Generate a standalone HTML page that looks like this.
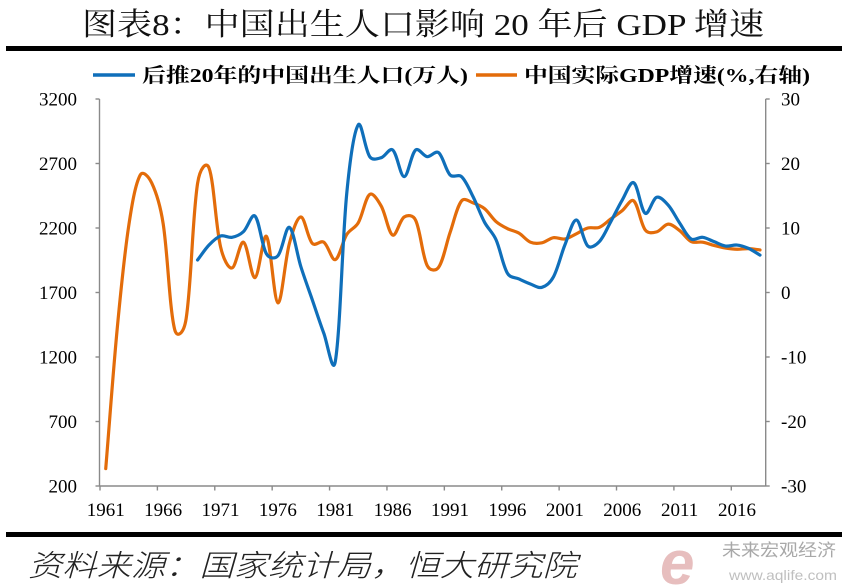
<!DOCTYPE html>
<html>
<head>
<meta charset="utf-8">
<style>
html,body{margin:0;padding:0;background:#fff;}
svg{display:block;}
.tk{font-family:"Liberation Serif","Noto Serif CJK SC",serif;font-size:19px;fill:#000;}
</style>
</head>
<body>
<svg id="c" width="849" height="587" viewBox="0 0 849 587" xmlns="http://www.w3.org/2000/svg">
<rect x="0" y="0" width="849" height="587" fill="#fff"/>
<!-- Title -->
<text x="82" y="35" font-family="'Liberation Serif','Noto Serif CJK SC',serif" font-size="31" fill="#111" textLength="682" lengthAdjust="spacingAndGlyphs">图表8：中国出生人口影响 20 年后 GDP 增速</text>
<rect x="6" y="46" width="836" height="5" fill="#000"/>

<!-- Legend -->
<line x1="93" y1="75" x2="135" y2="75" stroke="#0f6fba" stroke-width="3.5"/>
<text x="142" y="82" font-family="'Liberation Serif','Noto Serif CJK SC',serif" font-weight="bold" font-size="20" fill="#000" textLength="326" lengthAdjust="spacingAndGlyphs">后推20年的中国出生人口(万人)</text>
<line x1="476" y1="75" x2="517" y2="75" stroke="#e36c0a" stroke-width="3.5"/>
<text x="524" y="82" font-family="'Liberation Serif','Noto Serif CJK SC',serif" font-weight="bold" font-size="20" fill="#000" textLength="286" lengthAdjust="spacingAndGlyphs">中国实际GDP增速(%,右轴)</text>

<!-- Axes -->
<g stroke="#8a8a8a" stroke-width="1.4" fill="none" id="axes">
<line x1="99.5" y1="99" x2="99.5" y2="486.5"/>
<line x1="765.7" y1="99" x2="765.7" y2="486.5"/>
<line x1="99.5" y1="486" x2="765.7" y2="486"/>
</g>
<g id="ticks" stroke="#8a8a8a" stroke-width="1.4"></g>
<g id="labels"></g>

<!-- Series -->
<path id="orange" fill="none" stroke="#e36c0a" stroke-width="3.2" stroke-linejoin="round" stroke-linecap="round"/>
<path id="blue" fill="none" stroke="#0f6fba" stroke-width="3.2" stroke-linejoin="round" stroke-linecap="round"/>

<!-- Bottom rule & source -->
<rect x="6" y="532" width="836" height="5" fill="#000"/>
<text x="28" y="576" font-family="'Noto Sans CJK SC','WenQuanYi Zen Hei',sans-serif" font-style="italic" font-weight="300" font-size="30" fill="#222" textLength="549" lengthAdjust="spacingAndGlyphs">资料来源：国家统计局，恒大研究院</text>

<!-- Watermark -->
<g opacity="0.85">
<text x="660" y="584" font-family="'Liberation Sans',sans-serif" font-style="italic" font-weight="bold" font-size="62" fill="#e3b3b3">e</text>
<text x="722" y="556" font-family="'Liberation Sans','Noto Sans CJK SC',sans-serif" font-size="17" fill="#9a9a9a" textLength="114" lengthAdjust="spacingAndGlyphs">未来宏观经济</text>
<text x="729" y="580" font-family="'Liberation Sans',sans-serif" font-size="14" fill="#b5b5b5" textLength="108" lengthAdjust="spacingAndGlyphs">www.aqlife.com</text>
</g>
</svg>

<script>
(function(){
  var NS="http://www.w3.org/2000/svg";
  var W=11.478, X0=100;
  function x(i){return X0+(i+0.5)*W;}
  function yL(v){return 486-(v-200)*387/3000;}
  function yR(v){return 292.5-v*6.45;}
  var ticks=document.getElementById('ticks');
  var labels=document.getElementById('labels');
  function ln(x1,y1,x2,y2){var e=document.createElementNS(NS,'line');e.setAttribute('x1',x1);e.setAttribute('y1',y1);e.setAttribute('x2',x2);e.setAttribute('y2',y2);ticks.appendChild(e);}
  function tx(s,xx,yy,anchor){var e=document.createElementNS(NS,'text');e.setAttribute('x',xx);e.setAttribute('y',yy);e.setAttribute('class','tk');e.setAttribute('text-anchor',anchor);e.textContent=s;labels.appendChild(e);}
  var L=[3200,2700,2200,1700,1200,700,200], R=[30,20,10,0,-10,-20,-30];
  for(var k=0;k<7;k++){
    var yy=99+k*64.5;
    ln(95.5,yy,99.5,yy);
    ln(765.7,yy,769.7,yy);
    tx(String(L[k]),77,yy+6.5,'end');
    tx(String(R[k]),781,yy+6.5,'start');
  }
  for(var j=0;j<12;j++){
    var xx=X0+j*5*W;
    ln(xx,486,xx,490.5);
    tx(String(1961+j*5),xx+5.7,516,'middle');
  }
  function dist(a,b){var dx=a[0]-b[0],dy=a[1]-b[1];return Math.sqrt(dx*dx+dy*dy);}
  function path(pts){
    var n=pts.length, cin=[], cout=[];
    for(var i=0;i<n;i++){
      var p=pts[i], pr=pts[i-1]||p, nx=pts[i+1]||p;
      var tx_=nx[0]-pr[0], ty_=nx[1]-pr[1];
      var d1=dist(p,pr), d2=dist(p,nx), s=(d1+d2)||1;
      var fo=0.5*(1/6)+0.5*(d2/s)/3, fi=0.5*(1/6)+0.5*(d1/s)/3;
      if(i===0){fo=1/3;}
      if(i===n-1){fi=1/3;}
      cout.push([p[0]+tx_*fo, p[1]+ty_*fo]);
      cin.push([p[0]-tx_*fi, p[1]-ty_*fi]);
    }
    var d='M'+pts[0][0].toFixed(2)+','+pts[0][1].toFixed(2);
    for(var i=0;i<n-1;i++){
      d+=' C'+cout[i][0].toFixed(2)+','+cout[i][1].toFixed(2)+' '+cin[i+1][0].toFixed(2)+','+cin[i+1][1].toFixed(2)+' '+pts[i+1][0].toFixed(2)+','+pts[i+1][1].toFixed(2);
    }
    return d;
  }
  var gdp=[-27.3,-5.6,10.3,18.2,17.0,10.7,-5.7,-4.1,16.9,19.3,
           7.1,3.8,7.8,2.3,8.7,-1.6,7.6,11.7,7.6,7.8,
           5.1,9.0,10.8,15.2,13.4,8.9,11.7,11.2,4.2,3.9,
           9.3,14.2,13.9,13.0,11.0,9.9,9.2,7.8,7.7,8.5,
           8.3,9.1,10.0,10.1,11.4,12.7,14.2,9.7,9.4,10.6,
           9.6,7.9,7.8,7.3,6.9,6.7,6.8,6.6];
  var op=[];for(var i=0;i<gdp.length;i++)op.push([x(i),yR(gdp[i])]);
  document.getElementById('orange').setAttribute('d',path(op));
  var births=[1952,2068,2138,2128,2172,2293,2000,1985,2205,1900,
              1642,1384,1165,2471,3000,2753,2745,2805,2598,2805,
              2753,2784,2611,2598,2443,2245,2110,1849,1805,1766,
              1740,1820,2068,2262,2060,2094,2249,2417,2551,2314,
              2438,2378,2239,2115,2128,2094,2060,2068,2042,1990];
  var bp=[];for(var i=0;i<births.length;i++)bp.push([x(i+8),yL(births[i])]);
  document.getElementById('blue').setAttribute('d',path(bp));
})();
</script>
</body>
</html>
